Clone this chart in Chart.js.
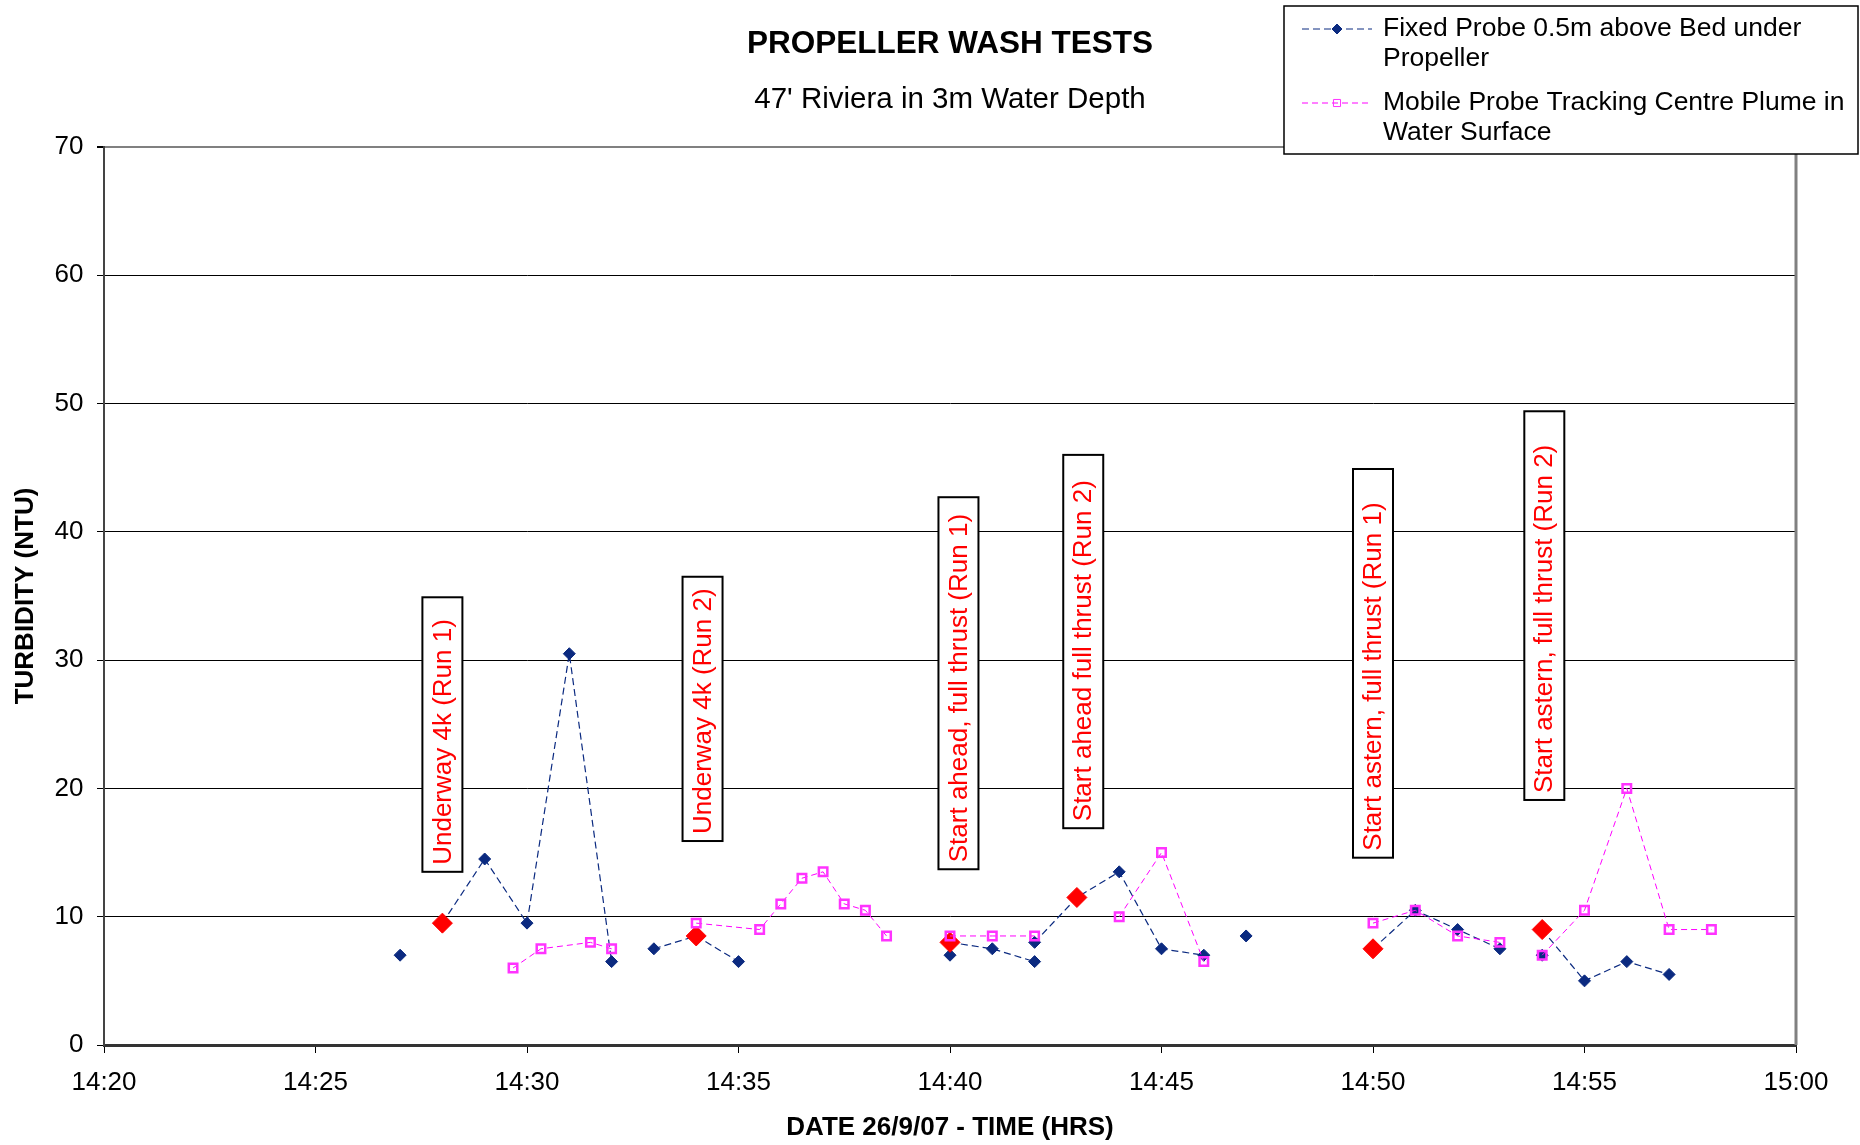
<!DOCTYPE html>
<html lang="en">
<head>
    <meta charset="UTF-8">
    <title>Propeller Wash Tests</title>
    <script src="https://cdn.jsdelivr.net/npm/chart.js"></script>
    <style>
        body { margin: 0; background: #fff; }
        #wrap { width: 1860px; height: 1145px; }
    </style>
</head>
<body>
    <div id="wrap">
        <canvas id="chart-wash" width="1860" height="1145"></canvas>
    </div>
</body>
</html>

<script>
    // times are minutes after 14:00, null values break the line
    const fixedTimes  = [27, 27.5, 28, 29, 30, 31, 32, 32.5, 33, 34, 35, 35.5, 40, 40, 40, 41, 42, 42, 42, 43, 44, 45, 46, 46.5, 47, 47.5, 50, 51, 52, 53, 53.5, 54, 54, 54, 55, 56, 57];
    const fixedValues = [7, null, 9.5, 14.5, 9.5, 30.5, 6.5, null, 7.5, 8.5, 6.5, null, 7, null, 8, 7.5, 6.5, null, 8, 11.5, 13.5, 7.5, 7, null, 8.5, null, 7.5, 10.5, 9, 7.5, null, 7, null, 9, 5, 6.5, 5.5];

    const mobileTimes  = [29.67, 30.33, 31.5, 32, 33, 34, 35.5, 36, 36.5, 37, 37.5, 38, 38.5, 39, 40, 41, 42, 43, 44, 45, 46, 48, 50, 51, 52, 53, 53.5, 54, 55, 56, 57, 58];
    const mobileValues = [6, 7.5, 8, 7.5, null, 9.5, 9, 11, 13, 13.5, 11, 10.5, 8.5, null, 8.5, 8.5, 8.5, null, 10, 15, 6.5, null, 9.5, 10.5, 8.5, 8, null, 7, 10.5, 20, 9, 9];

    const eventTimes  = [28, 34, 40, 43, 50, 54];
    const eventValues = [9.5, 8.5, 8, 11.5, 7.5, 9];

    const noteLabels = ['Underway 4k (Run 1)', 'Underway 4k (Run 2)', 'Start ahead, full thrust (Run 1)',
        'Start ahead full thrust (Run 2)', 'Start astern, full thrust (Run 1)', 'Start astern, full thrust (Run 2)'];
    const noteTimes = [28, 34.15, 40.2, 43.15, 50, 54.05];
    const noteFrom  = [13.5, 15.9, 13.7, 16.9, 14.6, 19.1];
    const noteTo    = [34.9, 36.5, 42.7, 46, 44.9, 49.4];

    const xMin = 20, xMax = 60, xStep = 5;
    const yMin = 0, yMax = 70, yStep = 10;

    const FONT = '"Liberation Sans", Arial, sans-serif';
    const NAVY = '#0b2a80';
    const PINK = '#ff33ff';

    function pairs(xs, ys) {
        return xs.map((x, i) => ({ x: x, y: ys[i] }));
    }

    function clock(v) {
        const h = 14 + Math.floor(v / 60);
        const m = v % 60;
        return h + ':' + String(m).padStart(2, '0');
    }

    // boxed red notes standing over the event times
    const notesPlugin = {
        id: 'notes',
        beforeDatasetsDraw(chart) {
            const ctx = chart.ctx;
            const xs = chart.scales.x, ys = chart.scales.y;
            ctx.save();
            noteLabels.forEach((label, i) => {
                const cx = xs.getPixelForValue(noteTimes[i]);
                const yb = ys.getPixelForValue(noteFrom[i]);
                const yt = ys.getPixelForValue(noteTo[i]);
                ctx.fillStyle = '#fff';
                ctx.strokeStyle = '#000';
                ctx.lineWidth = 2;
                ctx.fillRect(cx - 20, yt, 40, yb - yt);
                ctx.strokeRect(cx - 20, yt, 40, yb - yt);
                ctx.save();
                ctx.translate(cx + 1, yb - 7);
                ctx.rotate(-Math.PI / 2);
                ctx.font = '26px ' + FONT;
                ctx.fillStyle = '#ff0000';
                ctx.textAlign = 'left';
                ctx.textBaseline = 'middle';
                ctx.fillText(label, 0, 0);
                ctx.restore();
            });
            // plot area right edge
            const a = chart.chartArea;
            ctx.strokeStyle = '#808080';
            ctx.lineWidth = 3;
            ctx.beginPath();
            ctx.moveTo(a.right, a.top);
            ctx.lineTo(a.right, a.bottom);
            ctx.stroke();
            ctx.restore();
        }
    };

    // legend box in the top right corner, two lines per entry
    const legendBox = {
        id: 'legendBox',
        afterDraw(chart) {
            const ctx = chart.ctx;
            const entries = [
                { ds: chart.data.datasets[2], lines: ['Fixed Probe 0.5m above Bed under', 'Propeller'], y: 29, r: 5 },
                { ds: chart.data.datasets[0], lines: ['Mobile Probe Tracking Centre Plume in', 'Water Surface'], y: 103, r: 5 }
            ];
            ctx.save();
            ctx.fillStyle = '#fff';
            ctx.fillRect(1284, 6, 574, 148);
            ctx.strokeStyle = '#000';
            ctx.lineWidth = 1.5;
            ctx.strokeRect(1284, 6, 574, 148);
            entries.forEach(e => {
                ctx.strokeStyle = e.ds.borderColor;
                ctx.lineWidth = 1;
                ctx.setLineDash(e.ds.borderDash);
                ctx.beginPath();
                ctx.moveTo(1302, e.y);
                ctx.lineTo(1372, e.y);
                ctx.stroke();
                ctx.setLineDash([]);
                ctx.fillStyle = e.ds.pointBackgroundColor;
                ctx.strokeStyle = e.ds.pointBorderColor;
                Chart.helpers.drawPoint(ctx, {
                    pointStyle: e.ds.pointStyle,
                    radius: e.r,
                    rotation: 0,
                    borderWidth: 2
                }, 1337, e.y);
                ctx.fillStyle = '#000';
                ctx.font = '26.5px ' + FONT;
                ctx.textAlign = 'left';
                ctx.textBaseline = 'middle';
                e.lines.forEach((t, k) => ctx.fillText(t, 1383, e.y + k * 30));
            });
            ctx.restore();
        }
    };

    const ctxWash = document.getElementById('chart-wash');

    new Chart(ctxWash, {
        type: 'line',
        data: {
            datasets: [{
                label: 'Mobile Probe Tracking Centre Plume in Water Surface',
                data: pairs(mobileTimes, mobileValues),
                borderColor: '#ff00ff',
                borderWidth: 1,
                borderDash: [6, 4],
                pointStyle: 'rect',
                pointRadius: 6,
                pointBorderWidth: 2.5,
                pointBackgroundColor: 'rgba(0,0,0,0)',
                pointBorderColor: PINK
            }, {
                label: 'Events',
                data: pairs(eventTimes, eventValues),
                showLine: false,
                pointStyle: 'rectRot',
                pointRadius: 10,
                pointBorderWidth: 1,
                pointBackgroundColor: '#ff0000',
                pointBorderColor: '#ff0000'
            }, {
                label: 'Fixed Probe 0.5m above Bed under Propeller',
                data: pairs(fixedTimes, fixedValues),
                borderColor: NAVY,
                borderWidth: 1.2,
                borderDash: [7, 4],
                pointStyle: 'rectRot',
                pointRadius: 6,
                pointBorderWidth: 1,
                pointBackgroundColor: NAVY,
                pointBorderColor: NAVY
            }]
        },
        options: {
            responsive: false,
            animation: false,
            spanGaps: false,
            layout: {
                padding: { left: 0, right: 64, top: 0, bottom: 0 }
            },
            plugins: {
                legend: { display: false },
                tooltip: { enabled: false },
                title: {
                    display: true,
                    fullSize: false,
                    text: 'PROPELLER WASH TESTS',
                    color: '#000',
                    font: { family: FONT, size: 31.5, weight: 'bold', lineHeight: 1.2 },
                    padding: { top: 25, bottom: 19 }
                },
                subtitle: {
                    display: true,
                    fullSize: false,
                    text: "47' Riviera in 3m Water Depth",
                    color: '#000',
                    font: { family: FONT, size: 29.5, lineHeight: 1.2 },
                    padding: { top: 0, bottom: 29.8 }
                }
            },
            scales: {
                x: {
                    type: 'linear',
                    min: xMin,
                    max: xMax,
                    afterFit(s) { s.height = 100; },
                    ticks: {
                        stepSize: xStep,
                        color: '#000',
                        font: { family: FONT, size: 26 },
                        padding: 14,
                        maxRotation: 0,
                        callback: v => clock(v)
                    },
                    grid: {
                        drawOnChartArea: false,
                        drawTicks: true,
                        tickLength: 8,
                        color: '#000'
                    },
                    border: { color: '#333', width: 3 },
                    title: {
                        display: true,
                        text: 'DATE 26/9/07 - TIME (HRS)',
                        color: '#000',
                        font: { family: FONT, size: 26, weight: 'bold', lineHeight: 1.2 },
                        padding: { top: 0, bottom: 2 }
                    }
                },
                y: {
                    min: yMin,
                    max: yMax,
                    afterFit(s) { s.width = 104; },
                    ticks: {
                        stepSize: yStep,
                        color: '#000',
                        font: { family: FONT, size: 26 },
                        padding: 13.5
                    },
                    grid: {
                        color: c => c.tick && c.tick.value === yMax ? '#808080' : '#000',
                        lineWidth: c => c.tick && c.tick.value === yMax ? 2 : 1,
                        tickColor: '#000',
                        tickLength: 7
                    },
                    border: { color: '#444', width: 2 },
                    title: {
                        display: true,
                        text: 'TURBIDITY (NTU)',
                        color: '#000',
                        font: { family: FONT, size: 26, weight: 'bold', lineHeight: 1.2 },
                        padding: { top: 10, bottom: 0 }
                    }
                }
            }
        },
        plugins: [notesPlugin, legendBox]
    });
</script>
